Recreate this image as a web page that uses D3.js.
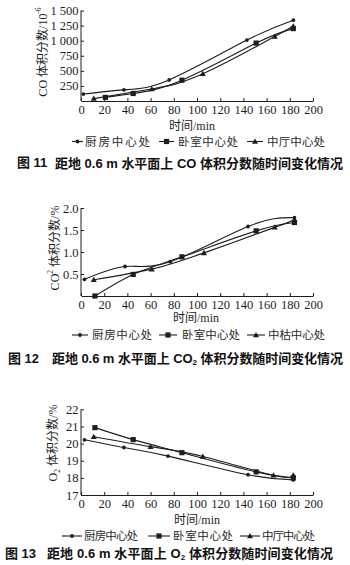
<!DOCTYPE html>
<html>
<head>
<meta charset="utf-8">
<script src="https://cdn.jsdelivr.net/npm/d3@7/dist/d3.min.js"></script>
<style>
  html, body { margin: 0; padding: 0; background: #fff; }
  svg { display: block; }
</style>
</head>
<body>
<svg id="fig" width="350" height="565"></svg>
<script>
// Time axis shared by all three panels (min)
const xTicks = [0, 20, 40, 60, 80, 100, 120, 140, 160, 180, 200];
const seriesNames = ["厨房中心处", "卧室中心处", "中厅中心处"];
const seriesNamesCO2 = ["厨房中心处", "卧室中心处", "中枯中心处"];

// CO volume fraction (10^-6): [time, value]
const coKitchen = [[2, 115], [37, 185], [76, 350], [143, 1010], [183, 1340]];
const coBedroom = [[21, 60], [45, 125], [87, 345], [151, 960], [183, 1200]];
const coHall    = [[11, 40], [61, 200], [105, 450], [167, 1070], [183, 1240]];
const coTicks   = [250, 500, 750, 1000, 1250, 1500];

// CO2 volume fraction (%)
const co2Kitchen = [[3, 0.38], [38, 0.67], [77, 0.78], [144, 1.58], [184, 1.78]];
const co2Bedroom = [[12, 0.00], [45, 0.49], [87, 0.89], [151, 1.48], [184, 1.67]];
const co2Hall    = [[11, 0.37], [61, 0.61], [106, 0.98], [167, 1.56], [184, 1.74]];
const co2Ticks   = [0.5, 1.0, 1.5, 2.0];

// O2 volume fraction (%)
const o2Kitchen = [[3, 20.22], [37, 19.77], [75, 19.27], [144, 18.18], [183, 17.88]];
const o2Bedroom = [[12, 20.93], [45, 20.23], [87, 19.47], [151, 18.35], [183, 18.0]];
const o2Hall    = [[11, 20.40], [60, 19.82], [105, 19.25], [166, 18.15], [183, 18.15]];
const o2Ticks   = [17, 18, 19, 20, 21, 22];

const svg = d3.select("#fig");
const INK = "#1e1e1e";
const SERIF = "'Liberation Serif', 'Times New Roman', 'Noto Sans CJK SC', serif";
const CJK = "'Liberation Serif', 'Noto Sans CJK SC', serif";
const HEI = "'Liberation Sans', 'Noto Sans CJK SC', sans-serif";

function marker(g, kind, x, y) {
  if (kind === 0) {
    g.append("circle").attr("cx", x).attr("cy", y).attr("r", 1.9).attr("fill", INK);
  } else if (kind === 1) {
    g.append("rect").attr("x", x - 2.6).attr("y", y - 2.6).attr("width", 5.2).attr("height", 5.2).attr("fill", INK);
  } else {
    g.append("path").attr("d", d3.symbol(d3.symbolTriangle, 16)()).attr("transform", `translate(${x},${y + 0.5})`).attr("fill", INK);
  }
}

function panel(cfg) {
  const g = svg.append("g");
  const x = d3.scaleLinear().domain([0, 200]).range([81, 313]);
  const y = d3.scaleLinear().domain(cfg.yDomain).range(cfg.yRange);

  // x axis
  const xa = g.append("g").attr("transform", `translate(0,${cfg.yRange[0]})`)
    .call(d3.axisBottom(x).tickValues(xTicks).tickSizeInner(-3).tickSizeOuter(0).tickPadding(4));
  // y axis
  const ya = g.append("g").attr("transform", `translate(81,0)`)
    .call(d3.axisLeft(y).tickValues(cfg.yTicks).tickFormat(cfg.fmt).tickSizeInner(-3).tickSizeOuter(0).tickPadding(2.5));
  // extend y axis line down to x axis
  ya.select(".domain").attr("d", `M0,${cfg.yRange[0]}V${y(cfg.yTicks[cfg.yTicks.length - 1])}`);
  [xa, ya].forEach(a => {
    a.selectAll("path, line").attr("stroke", INK).attr("stroke-width", 1);
    a.selectAll("text").attr("fill", INK).attr("font-family", SERIF).attr("font-size", 12.5);
  });

  // curves
  const line = d3.line().x(d => x(d[0])).y(d => y(d[1])).curve(d3.curveNatural);
  cfg.series.forEach((s, i) => {
    g.append("path").attr("d", line(s)).attr("fill", "none").attr("stroke", INK).attr("stroke-width", 1.1);
  });
  cfg.series.forEach((s, i) => {
    s.forEach(d => marker(g, i, x(d[0]), y(d[1])));
  });

  // axis titles
  g.append("text").attr("x", cfg.xTitle[0]).attr("y", cfg.xTitle[1]).attr("text-anchor", "middle")
    .attr("dominant-baseline", "central").attr("font-family", CJK).attr("font-size", 12).attr("fill", INK)
    .text("时间/min");
  const yt = g.append("text").attr("transform", `translate(${cfg.yTitle[0]},${cfg.yTitle[1]}) rotate(-90)`)
    .attr("text-anchor", "middle").attr("dominant-baseline", "central")
    .attr("font-family", CJK).attr("font-size", 12).attr("fill", INK);
  cfg.yTitleParts.forEach(p => {
    const t = yt.append("tspan").text(p.t);
    if (p.sup) t.attr("font-size", 7.5).attr("baseline-shift", "super");
    if (p.sub) t.attr("font-size", 7.5).attr("baseline-shift", "sub");
  });

  // legend
  cfg.legend.forEach((L, i) => {
    const ly = cfg.legendY;
    g.append("line").attr("x1", L[0]).attr("x2", L[1]).attr("y1", ly).attr("y2", ly)
      .attr("stroke", INK).attr("stroke-width", 1.1);
    marker(g, i, (L[0] + L[1]) / 2, ly);
    g.append("text").attr("x", L[2]).attr("y", ly).attr("dominant-baseline", "central")
      .attr("font-family", CJK).attr("font-size", cfg.legendSize).attr("fill", "#2a2a2a")
      .attr("textLength", L[3] - L[2]).attr("lengthAdjust", "spacing")
      .text(cfg.names[i]);
  });

  // caption
  g.append("text").attr("x", cfg.cap[0]).attr("y", cfg.cap[1]).attr("dominant-baseline", "central")
    .attr("font-family", HEI).attr("font-weight", "bold").attr("font-size", 13).attr("fill", "#111")
    .text(cfg.capNum);
  const ct = g.append("text").attr("x", cfg.cap[2]).attr("y", cfg.cap[1]).attr("dominant-baseline", "central")
    .attr("font-family", HEI).attr("font-weight", "bold").attr("font-size", 13).attr("fill", "#111")
    .attr("textLength", cfg.cap[3] - cfg.cap[2]).attr("lengthAdjust", "spacing");
  cfg.capParts.forEach(p => {
    const t = ct.append("tspan").text(p.t);
    if (p.sub) t.attr("font-size", 8).attr("baseline-shift", "sub");
  });
}

const fmtCO = v => {
  const s = String(v);
  return s.length > 3 ? s.slice(0, s.length - 3) + " " + s.slice(-3) : s;
};

panel({
  yDomain: [0, 1500], yRange: [101, 10.5], yTicks: coTicks, fmt: fmtCO,
  series: [coKitchen, coBedroom, coHall],
  xTitle: [192, 126], yTitle: [43, 52],
  yTitleParts: [{ t: "CO 体积分数/10" }, { t: "-6", sup: true }],
  legendY: 141.5, legendSize: 11.5, names: seriesNames,
  legend: [[72, 83, 85, 150], [159, 174, 178, 238], [247, 263, 267, 325]],
  cap: [17, 162.5, 55, 343], capNum: "图 11",
  capParts: [{ t: "距地 0.6 m 水平面上 CO 体积分数随时间变化情况" }]
});

panel({
  yDomain: [0, 2], yRange: [296, 208], yTicks: co2Ticks, fmt: d3.format(".1f"),
  series: [co2Kitchen, co2Bedroom, co2Hall],
  xTitle: [196, 318], yTitle: [55, 248],
  yTitleParts: [{ t: "CO" }, { t: "2", sup: true }, { t: " 体积分数/%" }],
  legendY: 335, legendSize: 11.5, names: seriesNamesCO2,
  legend: [[72, 88, 92, 152], [159, 177, 182, 240], [247, 265, 268, 325]],
  cap: [8, 358, 52, 343], capNum: "图 12",
  capParts: [{ t: "距地 0.6 m 水平面上 CO" }, { t: "2", sub: true }, { t: " 体积分数随时间变化情况" }]
});

panel({
  yDomain: [17, 22], yRange: [495, 409.3], yTicks: o2Ticks, fmt: d3.format("d"),
  series: [o2Kitchen, o2Bedroom, o2Hall],
  xTitle: [197, 520], yTitle: [53, 443],
  yTitleParts: [{ t: "O" }, { t: "2", sub: true }, { t: " 体积分数/%" }],
  legendY: 536, legendSize: 11.5, names: seriesNames,
  legend: [[62, 82, 84, 138], [148, 170, 173, 233], [240, 260, 262, 315]],
  cap: [5, 553, 47, 333], capNum: "图 13",
  capParts: [{ t: "距地 0.6 m 水平面上 O" }, { t: "2", sub: true }, { t: " 体积分数随时间变化情况" }]
});
</script>
</body>
</html>
